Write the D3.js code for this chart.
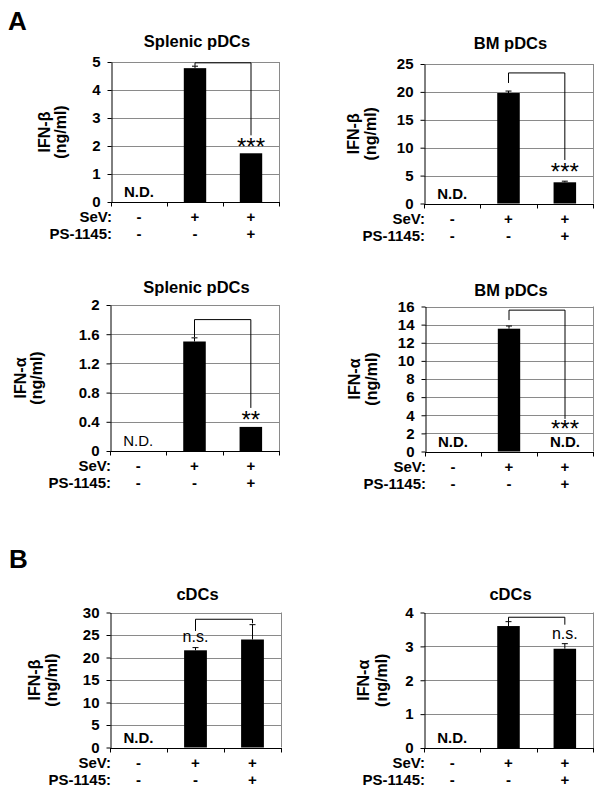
<!DOCTYPE html>
<html>
<head>
<meta charset="utf-8">
<script src="https://cdn.jsdelivr.net/npm/d3@7"></script>
<style>
  html, body { margin: 0; padding: 0; background: #fff; }
  svg { display: block; font-family: "Liberation Sans", Arial, sans-serif; }
</style>
</head>
<body>
<svg id="chart" width="604" height="795"></svg>
<script>
// ---------------- data ----------------
const categories = ["Mock", "SeV", "SeV + PS-1145"];
const sevRow = ["-", "+", "+"];
const psRow = ["-", "-", "+"];
const panelTitles = ["Splenic pDCs", "BM pDCs", "Splenic pDCs", "BM pDCs", "cDCs", "cDCs"];
const yLabelTexts = ["IFN-β", "IFN-β", "IFN-α", "IFN-α", "IFN-β", "IFN-α"];
const yUnit = "(ng/ml)";

const splenicIFNb = [null, 4.78, 1.74];
const splenicIFNbErr = [0, 0.07, 0];
const bmIFNb = [null, 19.8, 3.8];
const bmIFNbErr = [0, 0.35, 0.2];
const splenicIFNa = [null, 1.5, 0.33];
const splenicIFNaErr = [0, 0.05, 0];
const bmIFNa = [null, 13.55, null];
const bmIFNaErr = [0, 0.3, 0];
const cdcIFNb = [null, 21.6, 24.0];
const cdcIFNbErr = [0, 0.6, 3.3];
const cdcIFNa = [null, 3.6, 2.93];
const cdcIFNaErr = [0, 0.13, 0.15];

const ticksSplenicIFNb = [0, 1, 2, 3, 4, 5];
const ticksBmIFNb = [0, 5, 10, 15, 20, 25];
const ticksSplenicIFNa = [0, 0.4, 0.8, 1.2, 1.6, 2];
const ticksBmIFNa = [0, 2, 4, 6, 8, 10, 12, 14, 16];
const ticksCdcIFNb = [0, 5, 10, 15, 20, 25, 30];
const ticksCdcIFNa = [0, 1, 2, 3, 4];

const sigLabels = ["***", "***", "**", "***", "n.s.", "n.s."];
const ndLabel = "N.D.";
// significance brackets, in data units of each panel
const bracketTop = [4.97, 23.4, 1.80, 15.6, 28.5, 3.86];
const bracketLeftEnd = [4.86, 21.6, 1.56, 14.5, 25.9, 3.73];
const bracketRightEnd = [2.38, 7.8, 0.59, 3.6, 27.6, 3.64];
const sigLabelCategory = [2, 2, 2, 2, 1, 2];
const sigLabelBaseline = [1.67, 4.18, 0.31, 1.55, 23.5, 3.22];

const panelValues = [splenicIFNb, bmIFNb, splenicIFNa, bmIFNa, cdcIFNb, cdcIFNa];
const panelErrors = [splenicIFNbErr, bmIFNbErr, splenicIFNaErr, bmIFNaErr, cdcIFNbErr, cdcIFNaErr];
const panelTicks = [ticksSplenicIFNb, ticksBmIFNb, ticksSplenicIFNa, ticksBmIFNa, ticksCdcIFNb, ticksCdcIFNa];

// ---------------- layout ----------------
const layout = [
  { x0: 111, x1: 279, y0: 62,    y1: 202,   ylab: [44, 60],   titleDy: -15, ndBold: true },
  { x0: 424, x1: 593, y0: 64,    y1: 203.5, ylab: [353, 370], titleDy: -15, ndBold: true },
  { x0: 110, x1: 279, y0: 305,   y1: 451,   ylab: [20, 36],   titleDy: -12, ndBold: false },
  { x0: 425, x1: 593, y0: 306.5, y1: 451.5, ylab: [354, 371], titleDy: -11, ndBold: true },
  { x0: 110, x1: 281, y0: 612.5, y1: 747.5, ylab: [34, 51],   titleDy: -13, ndBold: true },
  { x0: 424, x1: 593, y0: 612.5, y1: 748,   ylab: [363, 381], titleDy: -13, ndBold: true }
];

const svg = d3.select("#chart");
const gridColor = "#8a8a8a";

svg.append("text").attr("x", 8).attr("y", 30).attr("font-size", 26).attr("font-weight", "bold").text("A");
svg.append("text").attr("x", 9).attr("y", 568).attr("font-size", 26).attr("font-weight", "bold").text("B");

layout.forEach((L, p) => {
  const vals = panelValues[p], errs = panelErrors[p], ticks = panelTicks[p];
  const yMax = ticks[ticks.length - 1];
  const x = d3.scaleBand().domain(categories).range([L.x0, L.x1]).paddingInner(0.6).paddingOuter(0.3);
  const y = d3.scaleLinear().domain([0, yMax]).range([L.y1, L.y0]);
  const g = svg.append("g");
  const cx = c => x(c) + x.bandwidth() / 2;

  // gridlines
  g.selectAll("line.grid").data(ticks.filter(t => t > 0)).join("line")
    .attr("x1", L.x0).attr("x2", L.x1)
    .attr("y1", d => Math.round(y(d)) + 0.5).attr("y2", d => Math.round(y(d)) + 0.5)
    .attr("stroke", gridColor).attr("stroke-width", 1);
  // right border
  g.append("line").attr("x1", Math.round(L.x1) + 0.5).attr("x2", Math.round(L.x1) + 0.5)
    .attr("y1", y(yMax)).attr("y2", L.y1).attr("stroke", gridColor);

  // bars
  const barData = categories.map((c, i) => ({ c, v: vals[i], e: errs[i] }));
  g.selectAll("rect.bar").data(barData.filter(d => d.v !== null)).join("rect")
    .attr("x", d => x(d.c)).attr("width", x.bandwidth())
    .attr("y", d => y(d.v)).attr("height", d => y(0) - y(d.v))
    .attr("fill", "#000");
  // error bars
  const eb = barData.filter(d => d.v !== null && d.e > 0);
  g.selectAll("line.err").data(eb).join("line")
    .attr("x1", d => cx(d.c)).attr("x2", d => cx(d.c))
    .attr("y1", d => y(d.v)).attr("y2", d => y(d.v + d.e))
    .attr("stroke", "#000").attr("stroke-width", 1);
  g.selectAll("line.cap").data(eb).join("line")
    .attr("x1", d => cx(d.c) - 3).attr("x2", d => cx(d.c) + 3)
    .attr("y1", d => y(d.v + d.e)).attr("y2", d => y(d.v + d.e))
    .attr("stroke", "#000").attr("stroke-width", 1);

  // N.D. labels
  g.selectAll("text.nd").data(barData.filter(d => d.v === null)).join("text")
    .attr("x", d => cx(d.c)).attr("y", y(0) - 5)
    .attr("text-anchor", "middle").attr("font-size", 15)
    .attr("font-weight", L.ndBold ? "bold" : "normal").text(ndLabel);

  // y axis
  const fmt = d3.format("~g");
  const yAxis = d3.axisLeft(y).tickValues(ticks).tickFormat(fmt).tickSize(4).tickSizeOuter(0).tickPadding(7);
  const ya = g.append("g").attr("transform", `translate(${Math.round(L.x0) + 0.5},0)`).call(yAxis);
  ya.selectAll("text").attr("font-size", 15).attr("font-weight", "bold").attr("fill", "#000")
    .style("font-family", '"Liberation Sans", Arial, sans-serif');
  ya.selectAll("line, path").attr("stroke", "#000");

  // x axis line + boundary ticks
  const yb = Math.round(L.y1) + 0.5;
  g.append("line").attr("x1", L.x0).attr("x2", L.x1 + 1).attr("y1", yb).attr("y2", yb).attr("stroke", "#000");
  const bounds = d3.range(categories.length + 1).map(i => L.x0 + i * x.step());
  g.selectAll("line.xt").data(bounds).join("line")
    .attr("x1", d => Math.round(d) + 0.5).attr("x2", d => Math.round(d) + 0.5)
    .attr("y1", yb).attr("y2", yb + 4).attr("stroke", "#000");

  // title
  g.append("text").attr("x", (L.x0 + L.x1) / 2 + 2).attr("y", L.y0 + L.titleDy)
    .attr("text-anchor", "middle").attr("font-size", 16.5).attr("font-weight", "bold").text(panelTitles[p]);

  // y label
  const ymid = (L.y0 + L.y1) / 2;
  [yLabelTexts[p], yUnit].forEach((t, k) => {
    g.append("text").attr("transform", `translate(${L.ylab[k]},${ymid}) rotate(-90)`)
      .attr("text-anchor", "middle").attr("dy", "0.36em")
      .attr("font-size", 16).attr("font-weight", "bold").text(t);
  });

  // treatment rows
  [["SeV:", sevRow, 20], ["PS-1145:", psRow, 37]].forEach(([lab, row, dy]) => {
    g.append("text").attr("x", L.x0 + 1).attr("y", L.y1 + dy).attr("text-anchor", "end")
      .attr("font-size", 15).attr("font-weight", "bold").text(lab);
    g.selectAll(null).data(row).join("text")
      .attr("x", (d, i) => cx(categories[i])).attr("y", L.y1 + dy)
      .attr("text-anchor", "middle").attr("font-size", 15).attr("font-weight", "bold").text(d => d);
  });

  // significance bracket
  const bx1 = cx(categories[1]), bx2 = cx(categories[2]);
  const path = d3.path();
  path.moveTo(bx1, y(bracketLeftEnd[p]));
  path.lineTo(bx1, y(bracketTop[p]));
  path.lineTo(bx2, y(bracketTop[p]));
  path.lineTo(bx2, y(bracketRightEnd[p]));
  g.append("path").attr("d", path.toString()).attr("fill", "none").attr("stroke", "#000").attr("stroke-width", 1);
  const isStar = sigLabels[p].startsWith("*");
  g.append("text").attr("x", cx(categories[sigLabelCategory[p]])).attr("y", y(sigLabelBaseline[p]))
    .attr("text-anchor", "middle").attr("font-size", isStar ? 24 : 16).text(sigLabels[p]);
});
</script>
</body>
</html>
